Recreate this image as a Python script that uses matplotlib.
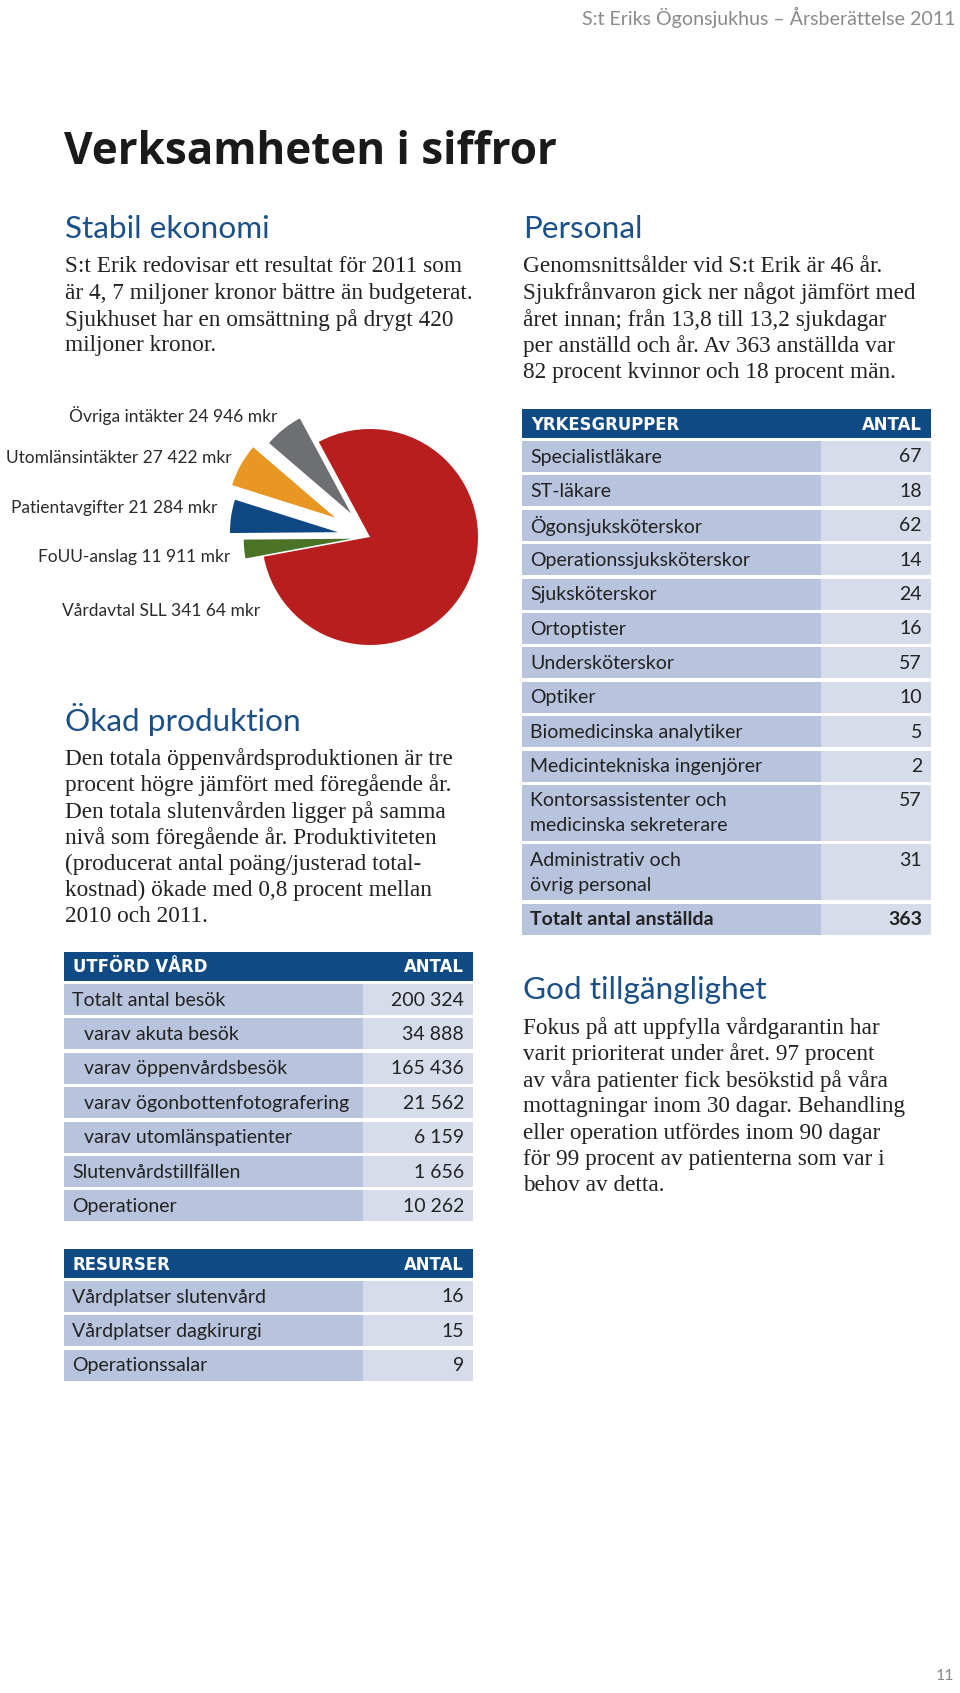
import matplotlib
matplotlib.use('Agg')
import matplotlib.pyplot as plt
from matplotlib.patches import Rectangle

# --- data -------------------------------------------------------------
pie_labels = ['Vårdavtal SLL 341 64 mkr', 'Övriga intäkter 24 946 mkr',
              'Utomlänsintäkter 27 422 mkr', 'Patientavgifter 21 284 mkr',
              'FoUU-anslag 11 911 mkr']
pie_values = [341064, 24946, 27422, 21284, 11911]

utford_labels = ['Totalt antal besök', 'varav akuta besök', 'varav öppenvårdsbesök',
                 'varav ögonbottenfotografering', 'varav utomlänspatienter',
                 'Slutenvårdstillfällen', 'Operationer']
utford_values = ['200 324', '34 888', '165 436', '21 562', '6 159', '1 656', '10 262']
utford_indent = [0, 1, 1, 1, 1, 0, 0]

resurser_labels = ['Vårdplatser slutenvård', 'Vårdplatser dagkirurgi', 'Operationssalar']
resurser_values = ['16', '15', '9']

yrkes_labels = ['Specialistläkare', 'ST-läkare', 'Ögonsjuksköterskor',
                'Operationssjuksköterskor', 'Sjuksköterskor', 'Ortoptister',
                'Undersköterskor', 'Optiker', 'Biomedicinska analytiker',
                'Medicintekniska ingenjörer',
                'Kontorsassistenter och\nmedicinska sekreterare',
                'Administrativ och\növrig personal',
                'Totalt antal anställda']
yrkes_values = ['67', '18', '62', '14', '24', '16', '57', '10', '5', '2', '57', '31', '363']

# --- styles -----------------------------------------------------------
SANS = 'Lato'
SERIF = 'Liberation Serif'
HEAD_BLUE = '#0f4a84'
TITLE_BLUE = '#1b4f87'
CELL_L = '#b8c3dd'
CELL_R = '#d7dceb'
TXT = '#222222'
pie_colors = ['#b91e1e', '#6e6f73', '#e89822', '#0e4882', '#4b7328']
pie_explode = [0, 0.28, 0.37, 0.30, 0.17]

W, H = 960, 1693
fig = plt.figure(figsize=(W / 100, H / 100), dpi=100)
page = fig.add_axes([0, 0, 1, 1])
page.set_xlim(0, W)
page.set_ylim(H, 0)
page.axis('off')


def pt(px):
    return px * 0.72


# header + title
page.text(956, 17, 'S:t Eriks Ögonsjukhus – Årsberättelse 2011', ha='right', va='center',
          fontsize=pt(19.6), color='#8a8a8a', family=SANS)
page.text(64, 152, 'Verksamheten i siffror', ha='left', va='center',
          fontsize=pt(44), fontweight='bold', color='#1a1a1a', family='Open Sans')


def section(x, y, title, lines, y0):
    page.text(x, y, title, ha='left', va='center', fontsize=pt(31.5),
              color=TITLE_BLUE, family=SANS)
    for i, ln in enumerate(lines):
        page.text(x, y0 + i * 26.3, ln, ha='left', va='center',
                  fontsize=pt(23.2), color=TXT, family=SERIF)


section(65, 229, 'Stabil ekonomi',
        ['S:t Erik redovisar ett resultat för 2011 som',
         'är 4, 7 miljoner kronor bättre än budgeterat.',
         'Sjukhuset har en omsättning på drygt 420',
         'miljoner kronor.'], 267)
section(523, 229, 'Personal',
        ['Genomsnittsålder vid S:t Erik är 46 år.',
         'Sjukfrånvaron gick ner något jämfört med',
         'året innan; från 13,8 till 13,2 sjukdagar',
         'per anställd och år. Av 363 anställda var',
         '82 procent kvinnor och 18 procent män.'], 267)
section(65, 720, 'Ökad produktion',
        ['Den totala öppenvårdsproduktionen är tre',
         'procent högre jämfört med föregående år.',
         'Den totala slutenvården ligger på samma',
         'nivå som föregående år. Produktiviteten',
         '(producerat antal poäng/justerad total-',
         'kostnad) ökade med 0,8 procent mellan',
         '2010 och 2011.'], 759)
section(523, 990, 'God tillgänglighet',
        ['Fokus på att uppfylla vårdgarantin har',
         'varit prioriterat under året. 97 procent',
         'av våra patienter fick besökstid på våra',
         'mottagningar inom 30 dagar. Behandling',
         'eller operation utfördes inom 90 dagar',
         'för 99 procent av patienterna som var i',
         'behov av detta.'], 1028)


def table(x0, x1, xs, top, title, labels, values, indent=None, bold_last=False):
    hh = 29
    page.add_patch(Rectangle((x0, top), x1 - x0, hh, color=HEAD_BLUE, lw=0))
    page.text(x0 + 9, top + hh / 2 + 1, title, ha='left', va='center', color='white',
              fontsize=pt(16.5), fontweight='bold', family='DejaVu Sans')
    page.text(x1 - 9, top + hh / 2 + 1, 'ANTAL', ha='right', va='center', color='white',
              fontsize=pt(16.5), fontweight='bold', family='DejaVu Sans')
    y = top + hh + 3
    for i, (lab, val) in enumerate(zip(labels, values)):
        lines = lab.split('\n')
        h = 31 + (len(lines) - 1) * 25
        page.add_patch(Rectangle((x0, y), xs - x0, h, color=CELL_L, lw=0))
        page.add_patch(Rectangle((xs, y), x1 - xs, h, color=CELL_R, lw=0))
        bold = bold_last and i == len(labels) - 1
        fw = 'bold' if bold else 'normal'
        dx = 12 if (indent and indent[i]) else 0
        for j, ln in enumerate(lines):
            page.text(x0 + 8 + dx, y + 16 + j * 25, ln, ha='left', va='center',
                      fontsize=pt(19.5), color=TXT, family=SANS, fontweight=fw)
        page.text(x1 - 9, y + 16, val, ha='right', va='center',
                  fontsize=pt(19.5), color=TXT, family=SANS, fontweight=fw)
        y += h + 3.4


table(64, 473, 363, 952, 'UTFÖRD VÅRD', utford_labels, utford_values, utford_indent)
table(64, 473, 363, 1249, 'RESURSER', resurser_labels, resurser_values)
table(522, 931, 821, 409, 'YRKESGRUPPER', yrkes_labels, yrkes_values, bold_last=True)

# pie chart
cx, cy, r = 370, 537, 108
half = 1.6 * r
pax = fig.add_axes([(cx - half) / W, (H - cy - half) / H, 2 * half / W, 2 * half / H])
pax.pie(pie_values, colors=pie_colors, explode=pie_explode, startangle=190.5,
        counterclock=True, radius=1, wedgeprops=dict(linewidth=0))
pax.set_xlim(-1.6, 1.6)
pax.set_ylim(-1.6, 1.6)
pax.axis('off')

label_pos = [(260, 611), (277, 416), (232, 458), (217, 508), (230, 557)]
for lab, (lx, ly) in zip(pie_labels, label_pos):
    page.text(lx, ly, lab, ha='right', va='center', fontsize=pt(17.4),
              color='#2a2a2a', family=SANS)

page.text(945, 1676, '11', ha='center', va='center', fontsize=pt(16),
          color='#8a8a8a', family=SANS)

plt.savefig('out.png', dpi=100)
